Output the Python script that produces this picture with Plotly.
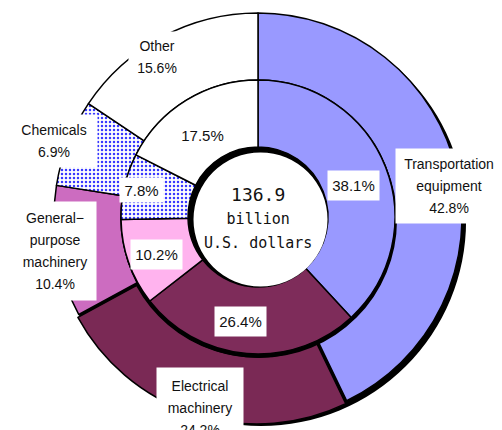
import plotly.graph_objects as go

# ---------------- data ----------------
categories = ["Transportation equipment", "Electrical machinery",
              "General-purpose machinery", "Chemicals", "Other"]
label_text = ["Transportation<br>equipment", "Electrical<br>machinery",
              "General−<br>purpose<br>machinery", "Chemicals", "Other"]
outer_share = [42.8, 24.2, 10.4, 6.9, 15.6]
inner_share = [38.1, 26.4, 10.2, 7.8, 17.5]
total_value = 136.9
total_unit = ["billion", "U.S. dollars"]

# ---------------- styles ----------------
colors_outer = ["#9999FF", "#7A2955", "#CC6CC0", "#FFFFFF", "#FFFFFF"]
colors_inner = ["#9999FF", "#7E2C5A", "#FFB3EE", "#FFFFFF", "#FFFFFF"]
pattern_shape = ["", "", "", ".", ""]
pull_outer = [0, 0.015, 0, 0, 0]

W, H = 502, 430
CX, CY = 258, 217            # pixel centre (from top)
R_OUT, R_MID, R_HOLE = 204, 137, 70

def dom(cx, cy, half):
    return dict(x=[(cx - half) / W, (cx + half) / W],
                y=[(H - cy - half) / H, (H - cy + half) / H])

def px(x, y):
    return x / W, 1 - y / H

PAT = dict(shape=pattern_shape, fgcolor="#3838FF", bgcolor="white",
           size=4, solidity=0.3)

fig = go.Figure()

# shadow behind outer ring
fig.add_trace(go.Pie(values=[1], labels=["s1"], hole=(R_MID - 6) / (R_OUT + 1), sort=False,
                     marker=dict(colors=["#000000"], line=dict(width=0)),
                     textinfo="none", hoverinfo="skip", showlegend=False,
                     domain=dom(CX + 3, CY + 4, R_OUT + 1)))

# outer ring
maxpull = max(pull_outer)
fig.add_trace(go.Pie(
    labels=categories, values=outer_share, sort=False, direction="clockwise",
    rotation=0, hole=R_MID / R_OUT, pull=pull_outer,
    marker=dict(colors=colors_outer, line=dict(color="black", width=1.5),
                pattern=PAT),
    textinfo="none", showlegend=False,
    domain=dom(CX, CY, R_OUT * (1 + maxpull))))

# shadow behind inner ring
fig.add_trace(go.Pie(values=[1], labels=["s2"], hole=0.9, sort=False,
                     marker=dict(colors=["#000000"], line=dict(width=0)),
                     textinfo="none", hoverinfo="skip", showlegend=False,
                     domain=dom(CX + 1, CY + 3, R_MID + 1)))

# inner ring
fig.add_trace(go.Pie(
    labels=categories, values=inner_share, sort=False, direction="clockwise",
    rotation=0, hole=R_HOLE / R_MID,
    marker=dict(colors=colors_inner, line=dict(color="black", width=1.5),
                pattern=PAT),
    textinfo="none", showlegend=False,
    domain=dom(CX, CY, R_MID)))

# hole with shadow
shapes = []
x0, y0 = px(CX - R_HOLE, CY - R_HOLE)
x1, y1 = px(CX + R_HOLE, CY + R_HOLE)
shapes.append(dict(type="circle", xref="paper", yref="paper", x0=x0, y0=y1, x1=x1, y1=y0,
                   fillcolor="black", line=dict(width=0), layer="above"))
r2 = R_HOLE - 3
x0, y0 = px(CX + 2.5 - r2, CY + 2.5 - r2)
x1, y1 = px(CX + 2.5 + r2, CY + 2.5 + r2)
shapes.append(dict(type="circle", xref="paper", yref="paper", x0=x0, y0=y1, x1=x1, y1=y0,
                   fillcolor="white", line=dict(width=0), layer="above"))

LABEL_FONT = "Liberation Sans, Arial, sans-serif"
annotations = []
outer_label_pos = [(449, 186), (200, 408), (55, 251), (54, 141), (157, 57)]
outer_box = [(106, 74), (86, 80), (82, 98), (86, 52), (56, 50)]
for i in range(len(categories)):
    x, y = px(*outer_label_pos[i])
    annotations.append(dict(
        x=x, y=y, xref="paper", yref="paper", showarrow=False,
        text=f'<span style="font-size:14px">{label_text[i]}<br>{outer_share[i]}%</span>',
        font=dict(family=LABEL_FONT, size=17, color="#111"),
        bgcolor="white", borderpad=0, width=outer_box[i][0], height=outer_box[i][1],
        xanchor="center", yanchor="middle", align="center", valign="middle"))

inner_label_pos = [(353, 185), (240, 321), (156, 254), (141, 190), (202, 135)]
inner_box = [(51, 29), (51, 29), (51, 29), (43, 24), (51, 29)]
for i in range(len(categories)):
    x, y = px(*inner_label_pos[i])
    annotations.append(dict(
        x=x, y=y, xref="paper", yref="paper", showarrow=False,
        text=f"{inner_share[i]}%",
        font=dict(family=LABEL_FONT, size=15, color="#111"),
        bgcolor="white", borderpad=0, width=inner_box[i][0], height=inner_box[i][1],
        xanchor="center", yanchor="middle", align="center", valign="middle"))

x, y = px(CX, CY + 1)
annotations.append(dict(
    x=x, y=y, xref="paper", yref="paper", showarrow=False,
    text=f'{total_value}<br><span style="font-size:15px">{total_unit[0]}<br>{total_unit[1]}</span>',
    font=dict(family="DejaVu Sans Mono, Liberation Mono, monospace", size=18, color="#111"),
    xanchor="center", yanchor="middle", align="center"))

fig.update_layout(
    width=W, height=H, margin=dict(l=0, r=0, t=0, b=0),
    paper_bgcolor="white", plot_bgcolor="white",
    shapes=shapes, annotations=annotations, showlegend=False)

fig.write_html("out.html", config={"displayModeBar": False},
               post_script="document.body.style.margin='0px';document.body.style.overflow='hidden';")
